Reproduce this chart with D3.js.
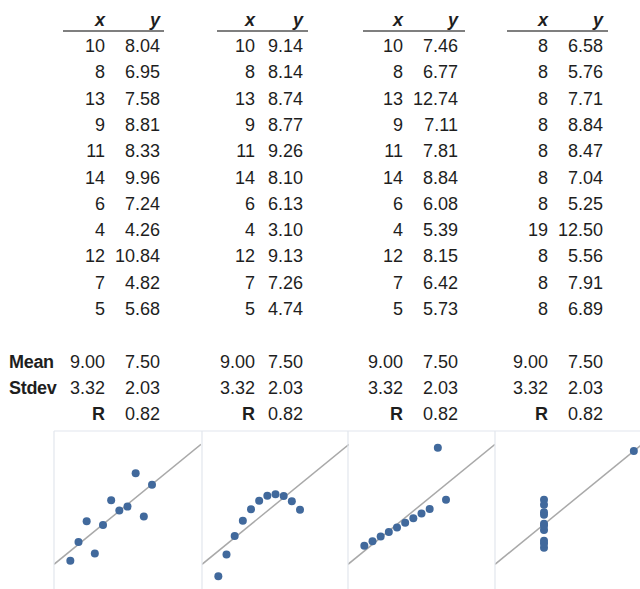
<!DOCTYPE html>
<html>
<head>
<meta charset="utf-8">
<script src="https://cdn.jsdelivr.net/npm/d3@7"></script>
<style>
  html, body { margin: 0; padding: 0; background: #fff; }
  svg { display: block; }
</style>
</head>
<body>
<svg id="chart" width="640" height="589"></svg>
<script>
// ---- data ----
const x1 = [10, 8, 13, 9, 11, 14, 6, 4, 12, 7, 5];
const y1 = [8.04, 6.95, 7.58, 8.81, 8.33, 9.96, 7.24, 4.26, 10.84, 4.82, 5.68];
const x2 = [10, 8, 13, 9, 11, 14, 6, 4, 12, 7, 5];
const y2 = [9.14, 8.14, 8.74, 8.77, 9.26, 8.10, 6.13, 3.10, 9.13, 7.26, 4.74];
const x3 = [10, 8, 13, 9, 11, 14, 6, 4, 12, 7, 5];
const y3 = [7.46, 6.77, 12.74, 7.11, 7.81, 8.84, 6.08, 5.39, 8.15, 6.42, 5.73];
const x4 = [8, 8, 8, 8, 8, 8, 8, 19, 8, 8, 8];
const y4 = [6.58, 5.76, 7.71, 8.84, 8.47, 7.04, 5.25, 12.50, 5.56, 7.91, 6.89];

const statLabels = ["Mean", "Stdev", "R"];
const meanX = ["9.00", "9.00", "9.00", "9.00"];
const meanY = ["7.50", "7.50", "7.50", "7.50"];
const stdevX = ["3.32", "3.32", "3.32", "3.32"];
const stdevY = ["2.03", "2.03", "2.03", "2.03"];
const corrR = ["0.82", "0.82", "0.82", "0.82"];

// fitted line y = a + b x (shared by all four sets)
const fitIntercept = 3.00;
const fitSlope = 0.500;

const xDomain = [2, 20];
const yDomain = [2, 14];

// ---- layout ----
const sets = [[x1, y1], [x2, y2], [x3, y3], [x4, y4]];
const colX = [105, 255, 403, 548];   // right edge of x column
const colY = [160, 303, 458, 603];   // right edge of y column
const ruleL = [63, 217, 363, 507];
const ruleR = [164, 308, 465, 608];

const svg = d3.select("#chart");
const font = "'Liberation Sans', Arial, sans-serif";
const ink = "#1e1e1e";

const rowY = d3.scaleLinear().domain([0, 10]).range([52, 315]);
const statY = d3.scaleLinear().domain([0, 2]).range([368, 420]);

sets.forEach(([xs, ys], g) => {
  const grp = svg.append("g").attr("font-family", font).attr("fill", ink);
  // headers
  grp.append("text").attr("x", colX[g]).attr("y", 26).attr("text-anchor", "end")
    .attr("font-size", 18).attr("font-weight", "bold").attr("font-style", "italic").text("x");
  grp.append("text").attr("x", colY[g]).attr("y", 26).attr("text-anchor", "end")
    .attr("font-size", 18).attr("font-weight", "bold").attr("font-style", "italic").text("y");
  grp.append("line").attr("x1", ruleL[g]).attr("x2", ruleR[g]).attr("y1", 31).attr("y2", 31)
    .attr("stroke", "#555").attr("stroke-width", 1.6);
  // rows
  grp.selectAll("text.xv").data(xs).join("text").attr("class", "xv")
    .attr("x", colX[g]).attr("y", (d, i) => rowY(i)).attr("text-anchor", "end")
    .attr("font-size", 18).text(d => d);
  grp.selectAll("text.yv").data(ys).join("text").attr("class", "yv")
    .attr("x", colY[g]).attr("y", (d, i) => rowY(i)).attr("text-anchor", "end")
    .attr("font-size", 18).text(d => d.toFixed(2));
  // stats
  const sx = [meanX[g], stdevX[g]];
  const sy = [meanY[g], stdevY[g], corrR[g]];
  sx.forEach((v, i) => grp.append("text").attr("x", colX[g]).attr("y", statY(i))
    .attr("text-anchor", "end").attr("font-size", 18).text(v));
  sy.forEach((v, i) => grp.append("text").attr("x", colY[g]).attr("y", statY(i))
    .attr("text-anchor", "end").attr("font-size", 18).text(v));
  grp.append("text").attr("x", colX[g]).attr("y", statY(2)).attr("text-anchor", "end")
    .attr("font-size", 18).attr("font-weight", "bold").text(statLabels[2]);
});

// row labels
[0, 1].forEach(i => svg.append("text").attr("x", 9).attr("y", statY(i))
  .attr("font-family", font).attr("font-size", 18).attr("font-weight", "bold")
  .attr("fill", ink).attr("letter-spacing", -0.3).text(statLabels[i]));

// ---- scatter panels ----
const panelL = [54, 202, 348, 495];
const panelW = 147;
const panelTop = 431, panelBottom = 591;
const border = "#e2e6ed";

svg.append("line").attr("x1", 54).attr("x2", 640).attr("y1", panelTop).attr("y2", panelTop)
  .attr("stroke", border).attr("stroke-width", 1.2);

sets.forEach(([xs, ys], g) => {
  const x = d3.scaleLinear().domain(xDomain).range([panelL[g], panelL[g] + panelW]);
  const y = d3.scaleLinear().domain(yDomain).range([panelBottom, panelTop]);
  const clipId = "clip" + g;
  svg.append("clipPath").attr("id", clipId).append("rect")
    .attr("x", panelL[g]).attr("y", panelTop).attr("width", panelW).attr("height", panelBottom - panelTop);
  const p = svg.append("g").attr("clip-path", `url(#${clipId})`);
  p.append("line")
    .attr("x1", x(xDomain[0])).attr("y1", y(fitIntercept + fitSlope * xDomain[0]))
    .attr("x2", x(xDomain[1])).attr("y2", y(fitIntercept + fitSlope * xDomain[1]))
    .attr("stroke", "#a9a9a9").attr("stroke-width", 1.5);
  p.selectAll("circle").data(xs.map((d, i) => [d, ys[i]])).join("circle")
    .attr("cx", d => x(d[0])).attr("cy", d => y(d[1])).attr("r", 4)
    .attr("fill", "#41699c");
  svg.append("line").attr("x1", panelL[g]).attr("x2", panelL[g]).attr("y1", panelTop).attr("y2", 589)
    .attr("stroke", border).attr("stroke-width", 1.2);
});
</script>
</body>
</html>
